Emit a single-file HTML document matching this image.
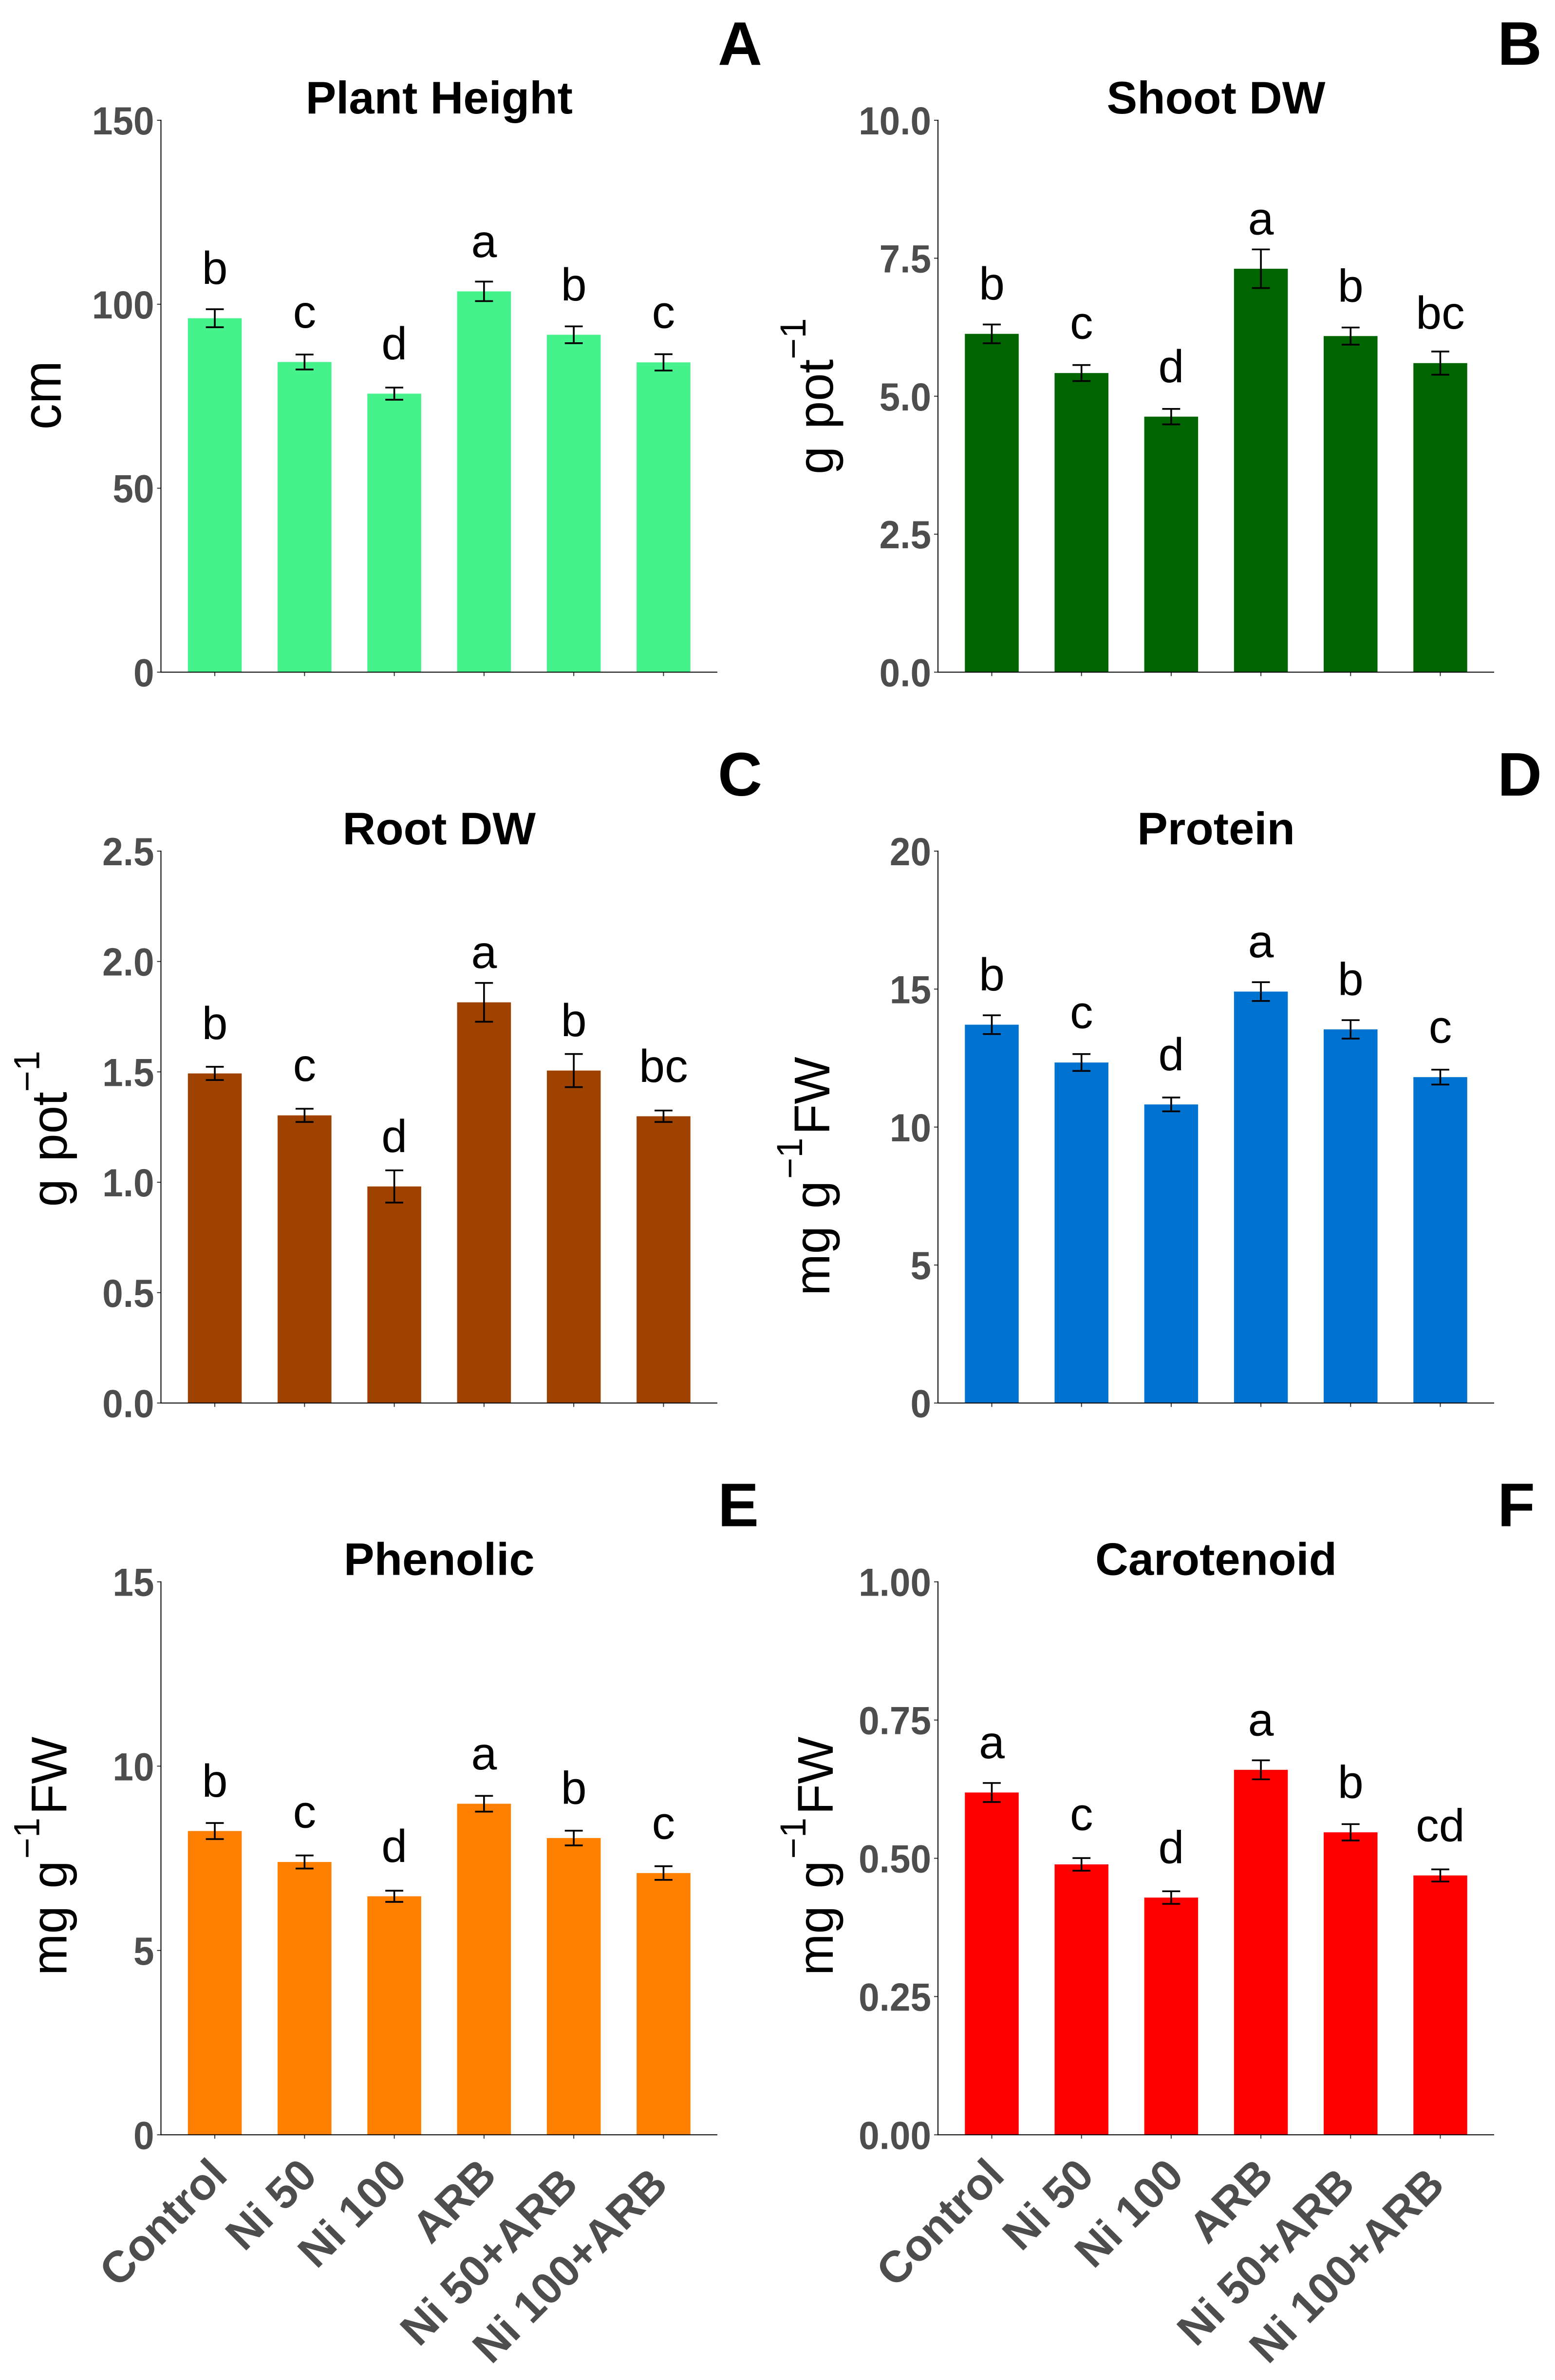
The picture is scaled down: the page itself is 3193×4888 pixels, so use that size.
<!DOCTYPE html>
<html lang="en">
<head>
<meta charset="utf-8">
<title>Plant growth and biochemical traits under nickel and ARB treatments</title>
<style>
  html, body { margin: 0; padding: 0; background: #fff; }
  svg { display: block; font-family: "Liberation Sans", Arial, sans-serif; }
</style>
</head>
<body>
<svg id="figure" xmlns="http://www.w3.org/2000/svg" width="3193" height="4888" viewBox="0 0 3193 4888"></svg>
<script>
const categories = ["Control", "Ni 50", "Ni 100", "ARB", "Ni 50+ARB", "Ni 100+ARB"];

const plantHeightValues = [96.2, 84.3, 75.7, 103.5, 91.7, 84.2];
const plantHeightErrors = [2.45, 2.03, 1.65, 2.66, 2.28, 2.22];
const plantHeightLetters = ["b", "c", "d", "a", "b", "c"];
const plantHeightTicks = ["0", "50", "100", "150"];

const shootValues = [6.13, 5.42, 4.63, 7.31, 6.09, 5.60];
const shootErrors = [0.17, 0.145, 0.14, 0.35, 0.155, 0.21];
const shootLetters = ["b", "c", "d", "a", "b", "bc"];
const shootTicks = ["0.0", "2.5", "5.0", "7.5", "10.0"];

const rootValues = [1.493, 1.303, 0.981, 1.815, 1.506, 1.299];
const rootErrors = [0.030, 0.030, 0.073, 0.088, 0.075, 0.026];
const rootLetters = ["b", "c", "d", "a", "b", "bc"];
const rootTicks = ["0.0", "0.5", "1.0", "1.5", "2.0", "2.5"];

const proteinValues = [13.71, 12.34, 10.82, 14.91, 13.54, 11.81];
const proteinErrors = [0.34, 0.306, 0.25, 0.34, 0.335, 0.27];
const proteinLetters = ["b", "c", "d", "a", "b", "c"];
const proteinTicks = ["0", "5", "10", "15", "20"];

const phenolicValues = [8.24, 7.40, 6.47, 8.98, 8.05, 7.10];
const phenolicErrors = [0.218, 0.178, 0.152, 0.214, 0.20, 0.185];
const phenolicLetters = ["b", "c", "d", "a", "b", "c"];
const phenolicTicks = ["0", "5", "10", "15"];

const carotenoidValues = [0.619, 0.489, 0.429, 0.660, 0.547, 0.469];
const carotenoidErrors = [0.0172, 0.0114, 0.0114, 0.0172, 0.0148, 0.011];
const carotenoidLetters = ["a", "c", "d", "a", "b", "cd"];
const carotenoidTicks = ["0.00", "0.25", "0.50", "0.75", "1.00"];

const svg = document.getElementById("figure");
const NS = "http://www.w3.org/2000/svg";

function make(tag, attrs, parent) {
  const el = document.createElementNS(NS, tag);
  for (const k in attrs) el.setAttribute(k, attrs[k]);
  parent.appendChild(el);
  return el;
}

const LEFT = { axisX: 330.5, endX: 1473, tagX: 1474 };
const RIGHT = { axisX: 1926, endX: 3068, tagX: 3075 };
const ROW1 = { top: 247, bottom: 1380.5 };
const ROW2 = { top: 1748, bottom: 2881.5 };
const ROW3 = { top: 3248.7, bottom: 4384.4 };

const panels = [
  { key: "plant-height", tag: "A", title: "Plant Height", col: LEFT, row: ROW1, color: "#45F28B", values: plantHeightValues, errors: plantHeightErrors, letters: plantHeightLetters, ticks: plantHeightTicks, yLabel: ["cm"], labelGap: 206, labelShift: -2, labelSize: 106, labelStretch: 1.07 },
  { key: "shoot-dw", tag: "B", title: "Shoot DW", col: RIGHT, row: ROW1, color: "#006400", values: shootValues, errors: shootErrors, letters: shootLetters, ticks: shootTicks, yLabel: ["g pot", "\u22121"], labelGap: 216, labelShift: 0, labelSize: 103, labelStretch: 1 },
  { key: "root-dw", tag: "C", title: "Root DW", col: LEFT, row: ROW2, color: "#9F4200", values: rootValues, errors: rootErrors, letters: rootLetters, ticks: rootTicks, yLabel: ["g pot", "\u22121"], labelGap: 194, labelShift: 3.5, labelSize: 103, labelStretch: 1 },
  { key: "protein", tag: "D", title: "Protein", col: RIGHT, row: ROW2, color: "#0073D1", values: proteinValues, errors: proteinErrors, letters: proteinLetters, ticks: proteinTicks, yLabel: ["mg g", "\u22121", "FW"], labelGap: 223, labelShift: 101, labelSize: 103, labelStretch: 1 },
  { key: "phenolic", tag: "E", title: "Phenolic", col: LEFT, row: ROW3, color: "#FF8000", values: phenolicValues, errors: phenolicErrors, letters: phenolicLetters, ticks: phenolicTicks, yLabel: ["mg g", "\u22121", "FW"], labelGap: 194, labelShift: -4.5, labelSize: 103, labelStretch: 1, showX: true },
  { key: "carotenoid", tag: "F", title: "Carotenoid", col: RIGHT, row: ROW3, color: "#FF0000", values: carotenoidValues, errors: carotenoidErrors, letters: carotenoidLetters, ticks: carotenoidTicks, yLabel: ["mg g", "\u22121", "FW"], labelGap: 216, labelShift: -4.5, labelSize: 103, labelStretch: 1, showX: true }
];

function drawPanel(p) {
  const axisX = p.col.axisX, endX = p.col.endX, top = p.row.top, bottom = p.row.bottom;
  const yMax = parseFloat(p.ticks[p.ticks.length - 1]);
  const n = categories.length;
  const step = (endX - axisX) / (n - 1 + 1.2);
  const barW = step * 0.6;
  const capW = step * 0.2;
  const xScale = i => axisX + step * (0.6 + i);
  const yScale = v => bottom - (v / yMax) * (bottom - top);

  const g = make("g", {}, svg);
  
  

  const tag = make("text", { x: p.col.tagX, y: top - 114, "font-size": 126, "font-weight": "bold", fill: "#000" }, g);
  
  
  tag.textContent = p.tag;

  const title = make("text", { x: (axisX + endX) / 2, y: top - 14, "font-size": 94, "font-weight": "bold", "text-anchor": "middle", fill: "#000" }, g);
  
  
  title.textContent = p.title;

  const ylab = make("text", {
    "font-size": p.labelSize, "text-anchor": "middle", "word-spacing": 7, fill: "#000",
    transform: "translate(" + (axisX - p.labelGap) + " " + ((top + bottom) / 2 + p.labelShift) + ") rotate(-90) scale(1 " + p.labelStretch + ")"
  }, g);
  
  
  p.yLabel.forEach((part, idx) => {
    const span = make("tspan", {}, ylab);
    if (idx === 1) {
      span.setAttribute("font-size", 74);
      span.setAttribute("dy", -56);
      span.setAttribute("dx", p.yLabel.length === 3 ? 4 : 0);
    }
    if (idx === 2) {
      span.setAttribute("dy", 56);
      span.setAttribute("dx", 6);
    }
    span.textContent = part;
  });

  p.values.forEach((v, i) => {
    const cx = xScale(i);
    const bar = make("rect", { x: cx - barW / 2, y: yScale(v), width: barW, height: bottom - yScale(v), fill: p.color }, g);
    
    

    const hi = yScale(v + p.errors[i]), lo = yScale(v - p.errors[i]);
    const err = make("path", {
      d: "M" + (cx - capW / 2) + " " + hi + "H" + (cx + capW / 2) + "M" + cx + " " + hi + "V" + lo + "M" + (cx - capW / 2) + " " + lo + "H" + (cx + capW / 2),
      fill: "none", stroke: "#000", "stroke-width": 3.6
    }, g);
    
    

    const letter = make("text", { x: cx, y: yScale(v) - 70.5, "font-size": 95, "text-anchor": "middle", fill: "#000" }, g);
    
    
    letter.textContent = p.letters[i];

    const tick = make("line", { x1: cx, x2: cx, y1: bottom, y2: bottom + 8, stroke: "#333", "stroke-width": 2 }, g);
    
    

    if (p.showX) {
      const isLong = categories[i].indexOf("+") >= 0;
      const ax = cx + 30 - (isLong ? 17 : 0);
      const ay = bottom + 88 + (isLong ? 19 : 0);
      const label = make("text", { "font-size": 91, "font-weight": "bold", "text-anchor": "end", fill: "#4D4D4D", transform: "translate(" + ax + " " + ay + ") rotate(-45)" }, g);
      
      
      label.textContent = categories[i];
    }
  });

  p.ticks.forEach(t => {
    const y = yScale(parseFloat(t));
    const tick = make("line", { x1: axisX - 8, x2: axisX, y1: y, y2: y, stroke: "#333", "stroke-width": 2 }, g);
    
    
    const label = make("text", {
      "font-size": 76.5, "font-weight": "bold", "text-anchor": "end", fill: "#4D4D4D",
      transform: "translate(" + (axisX - 14) + " " + (y + 29) + ") scale(1 1.05)"
    }, g);
    
    
    label.textContent = t;
  });

  const yAxis = make("line", { x1: axisX, x2: axisX, y1: top - 1, y2: bottom + 1, stroke: "#000", "stroke-width": 2 }, g);
  
  
  const xAxis = make("line", { x1: axisX, x2: endX, y1: bottom, y2: bottom, stroke: "#000", "stroke-width": 2 }, g);
  
  
}

panels.forEach(drawPanel);
</script>
</body>
</html>
